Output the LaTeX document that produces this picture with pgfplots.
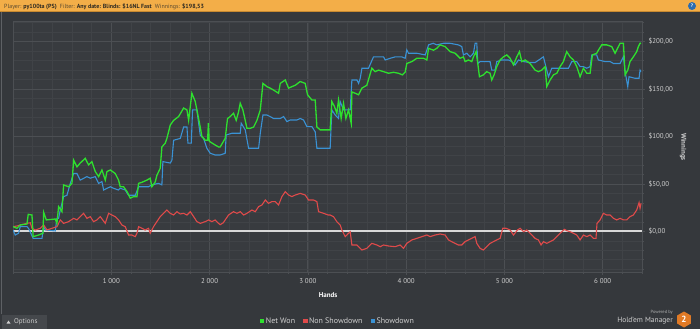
\documentclass[border=0pt]{standalone}
\usepackage{pgfplots}
\pgfplotsset{compat=1.18}
\usepackage{fontspec}
\setmainfont{PT Sans}
\usetikzlibrary{shapes.geometric}
\definecolor{bg}{HTML}{35383C}
\definecolor{plotbg}{HTML}{383B3F}
\definecolor{gridmaj}{HTML}{4C4F53}
\definecolor{gridmin}{HTML}{404347}
\definecolor{netgreen}{HTML}{2EE02E}
\definecolor{nsred}{HTML}{E04A4A}
\definecolor{sdblue}{HTML}{3A92D4}
\definecolor{ticktext}{HTML}{CFCFCF}
\definecolor{barorange}{HTML}{F3AE48}
\definecolor{bardark}{HTML}{C88A30}
\definecolor{bartext}{HTML}{2E2A22}
\definecolor{barlabel}{HTML}{5A4A30}
\definecolor{zeroline}{HTML}{D8D8D8}
\definecolor{hemorange}{HTML}{E07A26}
\definecolor{helpblue}{HTML}{2B6CB0}
\definecolor{btn}{HTML}{45484C}
\definecolor{edgeline}{HTML}{5E6165}
\begin{document}
\begin{tikzpicture}[x=1bp,y=1bp]
\fill[bg] (0,0) rectangle (700,329);
\path[use as bounding box] (0,0) rectangle (700,329);
% title bar
\fill[barorange] (0,317.5) rectangle (700,329);
\draw[bardark, line width=0.8bp] (0,317.5) -- (700,317.5);
\node[anchor=base west, inner sep=0, font=\fontsize{6}{7}\selectfont, text=barlabel] at (4,320.3)
  {Player: \textcolor{bartext}{\textbf{py100ta (PS)}}\ \ Filter: \textcolor{bartext}{\textbf{Any date: Blinds: \$16NL Fast}}\ \ Winnings: \textcolor{bartext}{\textbf{\$198,53}}};
\fill[helpblue] (692,323) circle (4bp);
\node[text=white, font=\bfseries\fontsize{5}{5}\selectfont, inner sep=0] at (692,323) {?};
% left edge line
\draw[edgeline, line width=1.2bp] (1.2,15) -- (1.2,317);
\begin{axis}[
  at={(13bp,57bp)}, anchor=south west,
  scale only axis, width=629bp, height=251bp,
  xmin=0, xmax=6400, ymin=-42.9, ymax=221.8,
  axis background/.style={fill=plotbg},
  axis line style={draw=gridmaj, line width=0.8bp},
  xtick={1000,2000,3000,4000,5000,6000},
  xticklabels={1 000,2 000,3 000,4 000,5 000,6 000},
  minor xtick={0,200,...,6400},
  ytick={0,50,100,150,200},
  yticklabels={{\$0,00},{\$50,00},{\$100,00},{\$150,00},{\$200,00}},
  minor ytick={-40,-30,...,220},
  xtick pos=left, ytick pos=right,
  yticklabel pos=right,
  grid=both,
  major grid style={draw=gridmaj, line width=0.8bp},
  minor grid style={draw=gridmin, line width=0.6bp},
  tick align=outside,
  major tick length=3bp, minor tick length=2bp,
  tick style={draw=gridmaj, line width=0.6bp},
  ticklabel style={font=\fontsize{7}{8}\selectfont, text=ticktext},
  legend style={at={(0.511,-0.195)}, anchor=center, legend columns=-1, draw=none, fill=none,
    text=ticktext, font=\fontsize{8}{9}\selectfont,
    nodes={inner xsep=1.5bp}},
  legend image code/.code={\path[draw=none, fill=none] (0bp,0bp) -- (11bp,0bp); \fill[draw=none] (6.6bp,-2.2bp) rectangle (11bp,2.2bp);},
  reverse legend,
]
\addplot[forget plot, color=zeroline, line width=1.8bp] coordinates {(0,0) (6400,0)};
% Showdown
\addplot[color=sdblue, line width=1.1bp] coordinates {
(0,1.4) (23,-3.9) (57,-2) (74,5) (142,5) (159,3) (205,-7.4) (295,-7.4) (312,5) (329,1.4) (430,0.4) (447,13.7) (464,13.7) (481,22.5) (515,36.6) (549,38) (583,50.6) (617,61) (651,61) (684,54) (752,57.7) (786,56) (837,57.7) (871,50.6) (905,52.4) (922,43.6) (990,47) (1023,45.4) (1071,43.6) (1091,45.4) (1142,43.6) (1176,38) (1244,38) (1278,47) (1379,47) (1413,49) (1481,50.6) (1515,49) (1525,73.5) (1600,72) (1617,75) (1634,96) (1702,98) (1736,110) (1770,110) (1780,93) (1814,93) (1827,128) (1871,128) (1905,101.6) (1939,98) (1973,87.6) (2007,82.3) (2057,80.5) (2108,80.5) (2159,82.3) (2169,101.6) (2227,103.4) (2312,103.4) (2322,114) (2363,107) (2397,87.6) (2499,87.6) (2516,103.4) (2543,122.7) (2583,122.7) (2617,121) (2651,119) (2719,119) (2753,121) (2787,115.7) (2821,117.4) (2889,117.4) (2922,119) (2956,117.4) (2990,110.4) (3041,110.4) (3075,105) (3092,87.6) (3227,87.6) (3244,128) (3278,122.7) (3312,119) (3329,136.8) (3363,128) (3431,128) (3448,159.6) (3499,159.6) (3516,156) (3533,161.4) (3550,172) (3617,172) (3668,184) (3770,184) (3787,180.7) (3838,182.5) (3889,184) (3956,184) (3990,182.5) (4007,191.3) (4024,187.8) (4109,187.8) (4194,186) (4228,196.6) (4275,198.3) (4312,196.6) (4380,198.3) (4447,198.3) (4532,196.6) (4566,194.8) (4583,186) (4617,187.8) (4651,184) (4685,187.8) (4702,198.3) (4719,198.3) (4729,177) (4753,179) (4854,179) (4871,170) (4905,170) (4922,179) (4973,180.7) (5041,180.7) (5075,179) (5109,175.5) (5143,180.7) (5194,179) (5261,178) (5312,178) (5397,184) (5431,170) (5448,163) (5482,172) (5651,172) (5685,179) (5736,179) (5770,173.7) (5804,173.7) (5838,172) (5872,173.7) (5889,186) (5939,186) (5956,180.7) (6024,179) (6075,179) (6109,177) (6177,177) (6211,184) (6228,168.4) (6255,152.6) (6268,163) (6329,161.4) (6370,161.4) (6380,170) (6390,168.4)
};
\addlegendentry{Showdown}
% Non Showdown
\addplot[color=nsred, line width=1.1bp] coordinates {
(0,4.9) (40,5.6) (74,6.7) (142,8.4) (176,9) (193,3.2) (227,1.4) (278,3.2) (312,6.7) (346,1.4) (397,3.2) (447,4.9) (481,12) (515,8.4) (566,10.2) (617,13.7) (651,12) (684,15.5) (718,19) (752,13.7) (786,15.5) (820,10.2) (854,12) (888,15.5) (939,8.4) (973,19) (1007,17.2) (1040,15.5) (1074,12) (1108,6.7) (1142,4.9) (1176,-3.9) (1210,-3.9) (1244,-5.6) (1261,-2) (1278,4.9) (1312,3.2) (1345,1.4) (1379,3.2) (1396,-2) (1430,4.9) (1464,10.2) (1498,15.5) (1532,19) (1566,22.5) (1600,19) (1634,17.2) (1668,20.7) (1702,18.3) (1736,19) (1770,17.2) (1804,20.7) (1838,15.5) (1871,10.2) (1905,8.4) (1956,10.2) (1990,12) (2024,10.2) (2057,12) (2091,8.4) (2108,7) (2139,9) (2159,12) (2193,17.2) (2244,20.7) (2278,19) (2312,20.7) (2346,17.2) (2380,19) (2431,22.5) (2465,20.7) (2499,26) (2533,27.8) (2567,33) (2600,29.5) (2634,31.3) (2668,31.3) (2702,27.8) (2736,36.6) (2770,41.8) (2804,38.3) (2838,36.6) (2872,38.3) (2922,40) (2973,38.3) (3007,33) (3058,33) (3092,31.3) (3109,20.7) (3160,19) (3207,17.2) (3227,17.2) (3261,15.5) (3295,10.2) (3329,6.7) (3346,1.4) (3380,-5.6) (3414,-2) (3431,-0.4) (3448,-14.4) (3499,-14.4) (3550,-19.7) (3600,-18) (3651,-12.7) (3702,-14.4) (3736,-16.2) (3770,-14.4) (3821,-15.5) (3889,-16.2) (3939,-14.4) (3973,-18) (4007,-12.7) (4058,-9.1) (4109,-7.4) (4160,-5.6) (4211,-3.9) (4244,-5.6) (4295,-3.9) (4346,-2.8) (4397,-3.9) (4431,-9.1) (4464,-10.9) (4498,-12.7) (4532,-14.4) (4566,-14.4) (4600,-10.9) (4634,-9.1) (4668,-7.4) (4702,-5.6) (4719,-12.7) (4753,-18) (4786,-19.7) (4820,-16.2) (4854,-12.7) (4888,-10.9) (4922,-9.1) (4956,-7.4) (4983,3.2) (5017,3.2) (5058,1.4) (5092,-3.9) (5133,1.4) (5160,3.2) (5194,-0.4) (5227,1.4) (5261,-2) (5312,-7.4) (5346,-9.1) (5373,-14.4) (5397,-10.9) (5431,-12.7) (5465,-10.9) (5499,-9.1) (5533,-5.6) (5567,-2) (5611,2.1) (5634,0.7) (5668,-0.4) (5702,-2) (5736,-3.9) (5770,-9.1) (5804,-3.9) (5838,-5.6) (5872,-3.9) (5905,-7.4) (5932,-7.4) (5942,8.4) (5973,12) (6007,19) (6041,17.2) (6075,17.2) (6109,13.7) (6143,12) (6177,13.7) (6211,12) (6245,12) (6278,15.5) (6312,17.2) (6346,22.5) (6370,30.2) (6380,24.3) (6390,29.5)
};
\addlegendentry{Non Showdown}
% Net Won
\addplot[color=netgreen, line width=1.3bp] coordinates {
(0,5) (40,3.2) (74,6.7) (142,7.7) (155,17.9) (193,17.2) (205,-5.6) (261,-3.9) (305,-2) (312,20) (339,12) (430,13) (447,8.4) (464,26) (498,20.7) (515,48.9) (566,47) (600,50.6) (617,75) (651,68) (684,72) (735,77) (769,70) (803,73.5) (837,63) (871,57.7) (905,64.7) (939,54) (956,63) (990,64.7) (1040,61) (1074,54) (1091,47) (1125,47) (1159,42) (1193,35) (1227,36.6) (1261,36.6) (1278,50.6) (1312,51.7) (1362,54) (1396,56) (1413,47) (1447,52) (1464,59) (1498,66.5) (1515,89) (1549,93) (1566,98) (1600,112) (1634,117) (1685,121) (1736,130) (1770,128) (1787,117) (1820,145.6) (1854,137) (1871,128) (1905,110) (1922,100) (1956,96) (1980,96) (1988,114) (1996,95) (2057,91) (2091,89) (2108,89) (2159,98) (2183,119) (2210,121) (2244,124.5) (2271,117) (2295,126) (2312,135) (2339,128) (2363,117) (2380,108.6) (2414,108.6) (2448,110) (2482,117) (2516,128) (2543,156) (2583,152.6) (2617,151) (2651,149) (2702,145.6) (2719,156) (2770,159.6) (2804,151) (2838,152.6) (2872,154) (2922,158) (2973,156) (2997,144) (3041,138.5) (3075,138.5) (3092,110) (3126,107) (3227,107) (3244,137) (3271,131.5) (3295,124.5) (3312,138.5) (3339,119) (3363,135) (3387,119) (3414,128) (3441,114) (3448,147) (3482,145.6) (3516,144) (3550,151) (3600,154) (3651,172) (3685,168.4) (3719,170) (3770,168.4) (3821,166.7) (3872,167.7) (3922,166.7) (3963,165) (3990,168) (4007,177) (4058,179) (4109,182.5) (4177,182.5) (4211,180.7) (4228,193) (4278,191) (4312,193) (4346,196.6) (4397,194.8) (4447,189.5) (4498,187.8) (4549,182.5) (4583,184) (4600,179) (4634,180.7) (4668,179) (4685,184) (4712,189.5) (4729,177) (4746,163) (4786,165) (4820,168.4) (4854,166.7) (4871,159.6) (4895,165) (4922,173.7) (4956,180.7) (4990,184) (5024,186) (5058,182.5) (5092,175.5) (5126,184) (5153,189.5) (5177,179) (5211,180.7) (5261,177) (5312,170) (5346,168.4) (5380,170) (5414,173.7) (5431,152.6) (5465,159.6) (5499,165) (5533,166.7) (5567,173.7) (5600,179) (5634,189.5) (5668,184) (5702,180.7) (5736,173.7) (5770,163) (5804,172) (5838,166.7) (5872,166.7) (5895,186) (5939,187.8) (5956,191) (5990,196.6) (6041,196.6) (6092,194.8) (6126,187.8) (6177,198.3) (6211,198.3) (6228,165) (6255,170) (6278,179) (6312,184) (6346,189.5) (6363,194.8) (6380,198.3) (6390,198.5)
};
\addlegendentry{Net Won}
\end{axis}
% axis titles
\node[font=\bfseries\fontsize{7}{8}\selectfont, text=white] at (328,34) {Hands};
\node[rotate=-90, font=\bfseries\fontsize{7}{8}\selectfont, text=ticktext] at (683,182) {Winnings};
% options button
\fill[btn] (2,0) rectangle (47,14);
\fill[ticktext] (6.5,5.5) -- (10.5,5.5) -- (8.5,8.5) -- cycle;
\node[anchor=west, inner sep=0, font=\fontsize{7}{8}\selectfont, text=ticktext] at (14,7) {Options};
% branding
\node[anchor=east, inner sep=0, font=\fontsize{4.5}{5}\selectfont, text=ticktext!80!bg] at (673,16.5) {Powered by};
\node[anchor=east, inner sep=0, font=\fontsize{7.5}{8}\selectfont, text=ticktext] at (673,8.5) {Hold'em Manager};
\node[regular polygon, regular polygon sides=6, shape border rotate=30, fill=hemorange, minimum size=16bp, inner sep=0,
  text=white, font=\bfseries\fontsize{9}{9}\selectfont] at (684,9.5) {2};
\end{tikzpicture}
\end{document}
